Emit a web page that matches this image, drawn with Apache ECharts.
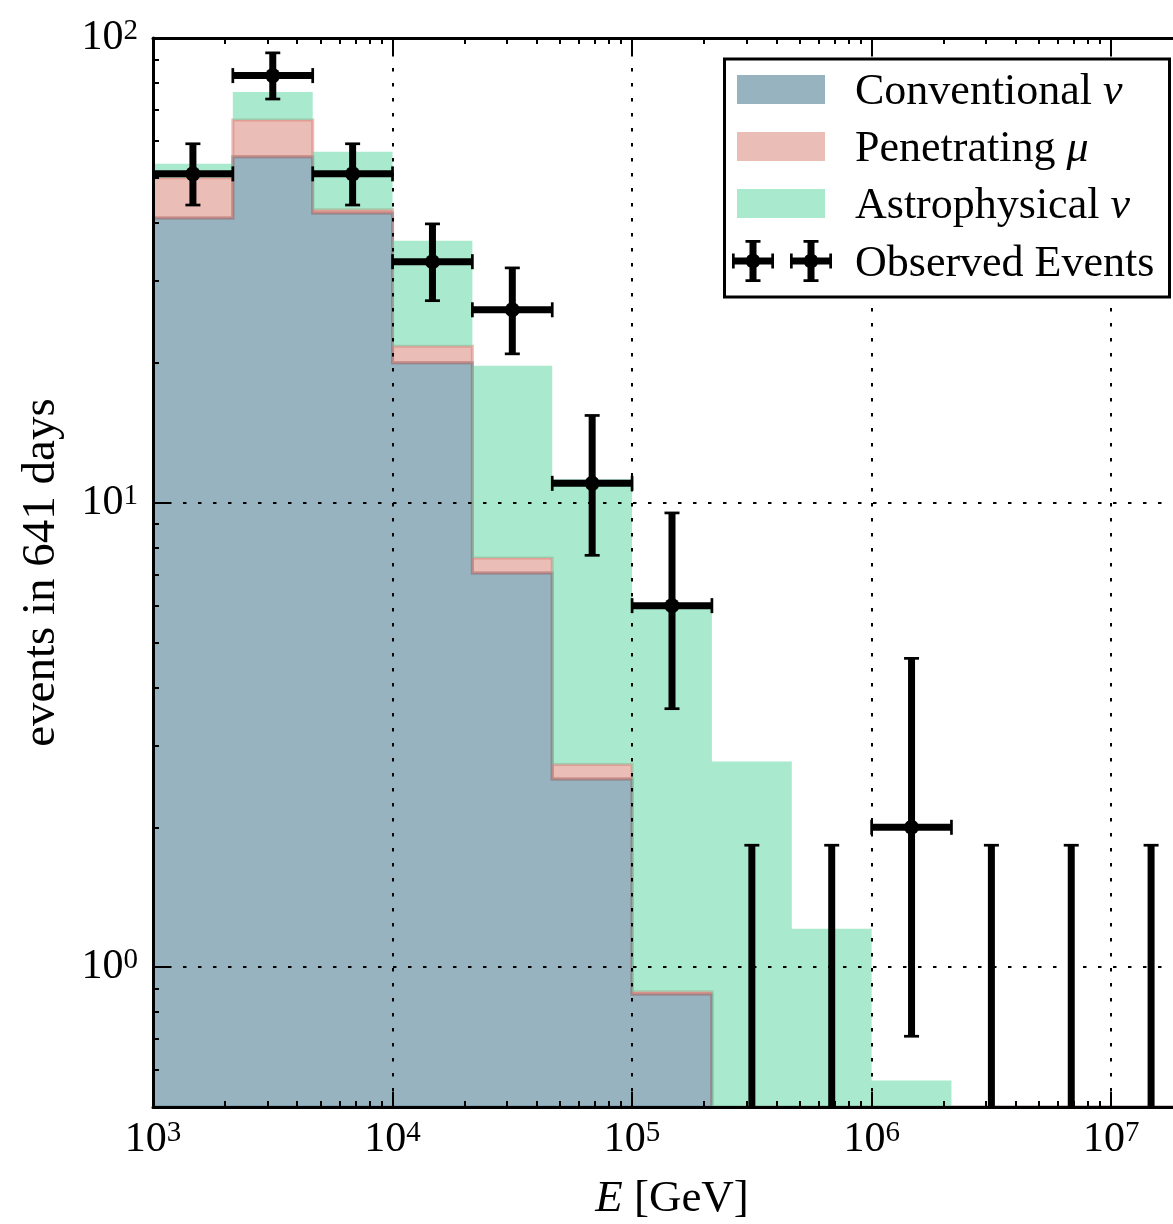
<!DOCTYPE html>
<html>
<head>
<meta charset="utf-8">
<script src="https://cdn.jsdelivr.net/npm/echarts@6/dist/echarts.min.js"></script>
<style>
  html, body { margin: 0; padding: 0; background: #ffffff; }
  #chart { width: 1173px; height: 1224px; }
</style>
</head>
<body>
<div id="chart"></div>
<script>
// Energy bin edges in GeV, three bins per decade
const binEdges = [1e3, 2.154e3, 4.642e3, 1e4, 2.154e4, 4.642e4, 1e5, 2.154e5, 4.642e5,
                  1e6, 2.154e6, 4.642e6, 1e7, 2.154e7];

// Expected events per bin for each flux component (stacked in this order)
const conventional  = [41.0, 55.5, 42.0, 20.0, 7.05, 2.54, 0.875, 0.30, 0.10, 0.03, 0.01, 0.003, 0.001];
const penetratingMu = [9.0, 11.1, 0.7, 1.7, 0.55, 0.19, 0.01, 0, 0, 0, 0, 0, 0];
const astrophysical = [3.6, 9.9, 14.2, 14.9, 12.1, 8.5, 5.1, 2.47, 1.11, 0.54, 0.24, 0.107, 0.049];

// Observed event counts with their interval bounds (0 events: upper limit only)
const observed     = [51, 83, 51, 33, 26, 11, 6, 0, 0, 2, 0, 0, 0];
const observedLow  = [43.7, 73.9, 43.7, 27.2, 20.9, 7.7, 3.6, 0, 0, 0.71, 0, 0, 0];
const observedHigh = [59.2, 92.9, 59.2, 39.8, 32.0, 15.4, 9.5, 1.83, 1.83, 4.62, 1.83, 1.83, 1.83];

// Axis ranges and labelled ticks
const X_MIN = 1e3, X_MAX = 2.154e7;
const Y_MIN = 0.5, Y_MAX = 100;
const xMajorTicks = [1e3, 1e4, 1e5, 1e6, 1e7];
const yMajorTicks = [1, 10, 100];

const NAME_CONV = 'Conventional \u03bd';
const NAME_MU = 'Penetrating \u03bc';
const NAME_ASTRO = 'Astrophysical \u03bd';
const NAME_OBS = 'Observed Events';
const Y_TITLE = 'events in 641 days';

const FONT = 'Liberation Serif';

// 2..9 times each power of ten inside (lo, hi)
function minorTicks(lo, hi) {
  const out = [];
  for (let d = Math.floor(Math.log10(lo)); d <= Math.ceil(Math.log10(hi)); d++) {
    for (let m = 2; m <= 9; m++) {
      const v = m * Math.pow(10, d);
      if (v > lo && v < hi) out.push(v);
    }
  }
  return out;
}
const xMinorTicks = minorTicks(X_MIN, X_MAX);
const yMinorTicks = minorTicks(Y_MIN, Y_MAX);

// cumulative stack boundaries
const zeros = conventional.map(() => 0);
const topConv = conventional.map(v => v);
const topMu = conventional.map((v, i) => v + penetratingMu[i]);
const topAstro = topMu.map((v, i) => v + astrophysical[i]);

const clampY = v => Math.max(v, Y_MIN);

// one filled step polygon per stacked component
function stackLayer(name, rgb, bottoms, tops, z, withEdge) {
  return {
    type: 'custom',
    name: name,
    coordinateSystem: 'cartesian2d',
    xAxisIndex: 0,
    yAxisIndex: 0,
    z: z,
    clip: true,
    silent: true,
    itemStyle: { color: 'rgba(' + rgb + ',0.5)' },
    data: tops.map((t, i) => [binEdges[i], binEdges[i + 1], t]),
    encode: { x: [0, 1], y: 2 },
    renderItem: function (params, api) {
      if (params.dataIndex !== 0) return null;
      const pts = [];
      for (let i = 0; i < tops.length; i++) {
        const y = clampY(tops[i]);
        pts.push(api.coord([binEdges[i], y]), api.coord([binEdges[i + 1], y]));
      }
      for (let i = tops.length - 1; i >= 0; i--) {
        const y = clampY(bottoms[i]);
        pts.push(api.coord([binEdges[i + 1], y]), api.coord([binEdges[i], y]));
      }
      return {
        type: 'polygon',
        shape: { points: pts },
        style: {
          fill: 'rgba(' + rgb + ',0.5)',
          stroke: withEdge ? 'rgba(' + rgb + ',0.5)' : null,
          lineWidth: withEdge ? 3 : 0,
          lineJoin: 'miter'
        }
      };
    }
  };
}

// error bar glyph for the observed counts
const BAR_W = 7, CAP_W = 2.7, CAP_HALF = 7.5, MARK_R = 7.5;
function renderObserved(params, api) {
  const lo = api.value(0), hi = api.value(1), n = api.value(2);
  const eLo = api.value(3), eHi = api.value(4);
  const c = Math.sqrt(lo * hi);
  const kids = [];
  const ink = { stroke: '#000', lineWidth: BAR_W, lineCap: 'butt' };
  const capInk = { stroke: '#000', lineWidth: CAP_W, lineCap: 'butt' };
  const pTop = api.coord([c, eHi]);
  const pBot = api.coord([c, Math.max(eLo, Y_MIN)]);
  kids.push({ type: 'line', shape: { x1: pBot[0], y1: pBot[1], x2: pTop[0], y2: pTop[1] }, style: ink });
  kids.push({ type: 'line', shape: { x1: pTop[0] - CAP_HALF, y1: pTop[1], x2: pTop[0] + CAP_HALF, y2: pTop[1] }, style: capInk });
  if (eLo > Y_MIN) {
    kids.push({ type: 'line', shape: { x1: pBot[0] - CAP_HALF, y1: pBot[1], x2: pBot[0] + CAP_HALF, y2: pBot[1] }, style: capInk });
  }
  if (n > 0) {
    const pL = api.coord([lo, n]), pR = api.coord([hi, n]), pC = api.coord([c, n]);
    kids.push({ type: 'line', shape: { x1: pL[0], y1: pL[1], x2: pR[0], y2: pR[1] }, style: ink });
    kids.push({ type: 'line', shape: { x1: pL[0], y1: pL[1] - CAP_HALF, x2: pL[0], y2: pL[1] + CAP_HALF }, style: capInk });
    kids.push({ type: 'line', shape: { x1: pR[0], y1: pR[1] - CAP_HALF, x2: pR[0], y2: pR[1] + CAP_HALF }, style: capInk });
    kids.push({ type: 'circle', shape: { cx: pC[0], cy: pC[1], r: MARK_R }, style: { fill: '#000' } });
  }
  return { type: 'group', children: kids };
}

// legend glyph: two error-bar crosses
function crossPath(cx) {
  const h = 21, w = 3.5, c = 7.5, t = 2.7, r = 7.5;
  const rect = (x0, y0, x1, y1) => 'M' + x0 + ' ' + y0 + 'H' + x1 + 'V' + y1 + 'H' + x0 + 'Z';
  return [
    rect(cx - h, h - w, cx + h, h + w),
    rect(cx - w, 0, cx + w, 2 * h),
    rect(cx - h, h - c, cx - h + t, h + c),
    rect(cx + h - t, h - c, cx + h, h + c),
    rect(cx - c, 0, cx + c, t),
    rect(cx - c, 2 * h - t, cx + c, 2 * h),
    'M' + (cx - r) + ' ' + h + 'A' + r + ' ' + r + ' 0 1 1 ' + (cx + r) + ' ' + h +
      'A' + r + ' ' + r + ' 0 1 1 ' + (cx - r) + ' ' + h + 'Z'
  ].join(' ');
}
const OBS_ICON = 'path://' + crossPath(21) + ' ' + crossPath(79);

const powLabel = v => '{b|10}{e|' + Math.round(Math.log10(v)) + '}';
const labelRich = {
  b: { fontFamily: FONT, fontSize: 42, color: '#000' },
  e: { fontFamily: FONT, fontSize: 29, color: '#000', verticalAlign: 'top' }
};

function legendFormatter(name) {
  const m = name.match(/^(.*) ([\u0370-\u03ff])$/);
  if (m) return '{t|' + m[1] + ' }{g|' + m[2] + '}';
  return '{t|' + name + '}';
}
function legendText(gap) {
  return {
    fontFamily: FONT, fontSize: 44, lineHeight: 44, color: '#000', width: 320,
    rich: {
      t: { fontFamily: FONT, fontSize: 44, lineHeight: 44, color: '#000', padding: [6, 0, 0, gap] },
      g: { fontFamily: FONT, fontSize: 44, lineHeight: 44, color: '#000', fontStyle: 'italic', padding: [6, 0, 0, 0] }
    }
  };
}

const tickStyle = { color: '#000', width: 2 };
const gridDots = { color: '#000', width: 2, type: [3.5, 11.5] };

function logAxis(extra, lo, hi) {
  return Object.assign({
    type: 'log', logBase: 10, min: lo, max: hi, z: 10,
    axisLine: { show: false },
    axisTick: { show: false },
    axisLabel: { show: false },
    splitLine: { show: false }
  }, extra);
}

const option = {
  animation: false,
  backgroundColor: '#ffffff',
  textStyle: { fontFamily: FONT },
  grid: { left: 153, top: 38, width: 1038, height: 1069, containLabel: false, outerBoundsMode: 'none' },
  // rotated y-axis title, centred on the plot height
  graphic: [{
    type: 'text',
    x: 42,
    y: 572.5,
    rotation: Math.PI / 2,
    z: 30,
    style: {
      text: Y_TITLE,
      fontFamily: FONT,
      fontSize: 47,
      fill: '#000',
      align: 'center',
      verticalAlign: 'middle'
    }
  }],
  xAxis: [
    logAxis({
      position: 'bottom',
      axisLine: { show: true, onZero: false, lineStyle: { color: '#000', width: 3 } },
      axisTick: { show: true, inside: true, length: 15, customValues: xMajorTicks, lineStyle: tickStyle },
      axisLabel: { show: true, customValues: xMajorTicks, margin: 12, formatter: powLabel, rich: labelRich },
      splitLine: { show: true, lineStyle: gridDots },
      name: '{i|E} {r|[GeV]}',
      nameLocation: 'middle',
      nameGap: 70,
      nameTextStyle: {
        fontFamily: FONT, fontSize: 45, color: '#000',
        rich: {
          i: { fontFamily: FONT, fontSize: 45, fontStyle: 'italic', color: '#000' },
          r: { fontFamily: FONT, fontSize: 45, color: '#000' }
        }
      }
    }, X_MIN, X_MAX),
    logAxis({
      position: 'bottom',
      axisTick: { show: true, inside: true, length: 6, customValues: xMinorTicks, lineStyle: tickStyle }
    }, X_MIN, X_MAX),
    logAxis({
      position: 'top',
      axisLine: { show: true, onZero: false, lineStyle: { color: '#000', width: 3 } },
      axisTick: { show: true, inside: true, length: 15, customValues: xMajorTicks, lineStyle: tickStyle }
    }, X_MIN, X_MAX),
    logAxis({
      position: 'top',
      axisTick: { show: true, inside: true, length: 6, customValues: xMinorTicks, lineStyle: tickStyle }
    }, X_MIN, X_MAX)
  ],
  yAxis: [
    logAxis({
      position: 'left',
      axisLine: { show: true, onZero: false, lineStyle: { color: '#000', width: 3 } },
      axisTick: { show: true, inside: true, length: 15, customValues: yMajorTicks, lineStyle: tickStyle },
      axisLabel: { show: true, customValues: yMajorTicks, margin: 15, formatter: powLabel, rich: labelRich },
      splitLine: { show: true, lineStyle: gridDots }
    }, Y_MIN, Y_MAX),
    logAxis({
      position: 'left',
      axisTick: { show: true, inside: true, length: 6, customValues: yMinorTicks, lineStyle: tickStyle }
    }, Y_MIN, Y_MAX)
  ],
  legend: [
    {
      selectedMode: false,
      orient: 'vertical',
      left: 724.5,
      top: 59,
      itemWidth: 88,
      itemHeight: 29,
      itemGap: 7,
      padding: [5.5, 19.5, 68.5, 12.5],
      borderColor: '#000',
      borderWidth: 3,
      borderRadius: 0,
      backgroundColor: '#ffffff',
      z: 20,
      data: [
        { name: NAME_CONV, icon: 'rect', itemStyle: { color: '#98b3c0' } },
        { name: NAME_MU, icon: 'rect', itemStyle: { color: '#ebbdb7' } },
        { name: NAME_ASTRO, icon: 'rect', itemStyle: { color: '#a9eacf' } }
      ],
      formatter: legendFormatter,
      textStyle: legendText(25)
    },
    {
      selectedMode: false,
      orient: 'vertical',
      left: 732,
      top: 236,
      itemWidth: 100,
      itemHeight: 42,
      padding: 0,
      z: 21,
      data: [{ name: NAME_OBS, icon: OBS_ICON, itemStyle: { color: '#000' } }],
      formatter: legendFormatter,
      textStyle: legendText(18)
    }
  ],
  series: [
    stackLayer(NAME_CONV, '49,103,129', zeros, topConv, 2, true),
    stackLayer(NAME_MU, '215,123,111', topConv, topMu, 3, true),
    stackLayer(NAME_ASTRO, '83,213,159', topMu, topAstro, 4, false),
    {
      type: 'custom',
      name: NAME_OBS,
      coordinateSystem: 'cartesian2d',
      xAxisIndex: 0,
      yAxisIndex: 0,
      z: 12,
      clip: true,
      silent: true,
      itemStyle: { color: '#000' },
      data: observed.map((n, i) => [binEdges[i], binEdges[i + 1], n, observedLow[i], observedHigh[i]]),
      encode: { x: [0, 1], y: 4 },
      renderItem: renderObserved
    }
  ]
};

const chart = echarts.init(document.getElementById('chart'), null, { renderer: 'canvas' });
chart.setOption(option);
</script>
</body>
</html>
